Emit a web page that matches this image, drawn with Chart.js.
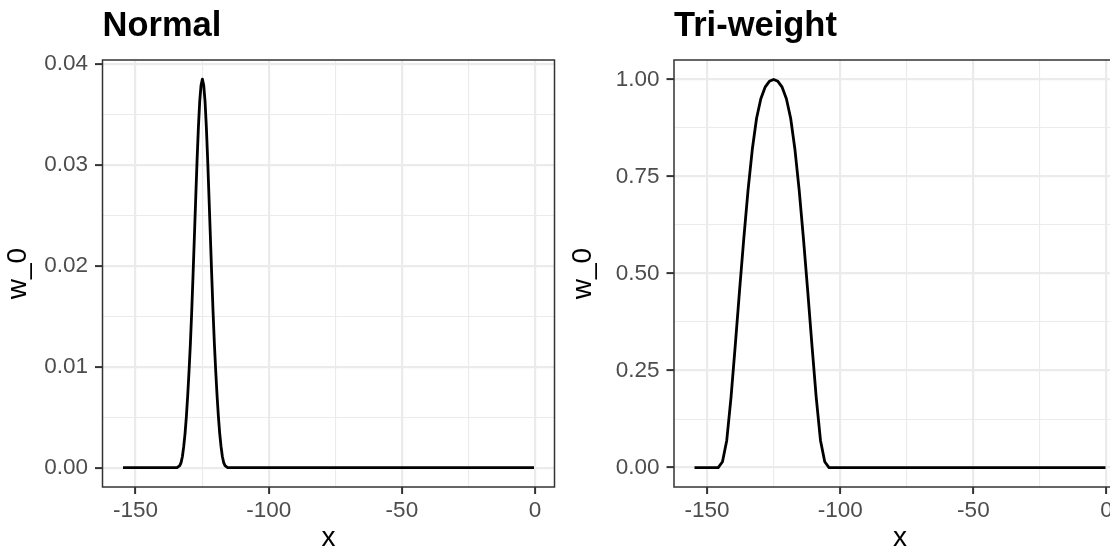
<!DOCTYPE html>
<html>
<head>
<meta charset="utf-8">
<script src="https://cdn.jsdelivr.net/npm/chart.js@4/dist/chart.umd.min.js"></script>
<style>
  html, body { margin: 0; padding: 0; background: #fff; overflow: hidden; }
  body { width: 1110px; height: 552px; position: relative; }
  .painel { position: absolute; top: 0; height: 552px; }
</style>
</head>
<body>
<div class="painel" style="left:0; width:560px;"><canvas id="graficoNormal" width="560" height="552"></canvas></div>
<div class="painel" style="left:560px; width:570px;"><canvas id="graficoTriweight" width="570" height="552"></canvas></div>
<script>
// valores
var ticksX = [-150, -100, -50, 0];
var ticksNormalY = [0, 0.01, 0.02, 0.03, 0.04];
var ticksTriY = [0, 0.25, 0.5, 0.75, 1];

var normalX = [-154.7,
    -134.4, -133.9, -133.4, -132.9, -132.4, -131.9, -131.4, -130.9, -130.4, -129.9,
    -129.4, -128.9, -128.4, -127.9, -127.4, -126.9, -126.4, -125.9, -125.4, -124.9,
    -124.4, -123.9, -123.4, -122.9, -122.4, -121.9, -121.4, -120.9, -120.4, -119.9,
    -119.4, -118.9, -118.4, -117.9, -117.4, -116.9, -116.4, -115.9, -115.4,
    -0.4];
var normalY = [0,
    0, 0.0001, 0.0002, 0.0005, 0.0011, 0.0021, 0.0034, 0.0051, 0.0072, 0.0096,
    0.0123, 0.0155, 0.0191, 0.0229, 0.0267, 0.0304, 0.0337, 0.0363, 0.0379, 0.0385,
    0.0379, 0.0363, 0.0337, 0.0304, 0.0267, 0.0229, 0.0191, 0.0155, 0.0123, 0.0096,
    0.0072, 0.0051, 0.0034, 0.0021, 0.0011, 0.0005, 0.0002, 0.0001, 0,
    0];

var triX = [-154.7,
    -145.8, -144.2, -142.6, -141.0, -139.4, -137.8, -136.2, -134.6, -133.0, -131.4,
    -129.8, -128.2, -126.6, -125.0, -123.4, -121.8, -120.2, -118.6, -117.0, -115.4,
    -113.8, -112.2, -110.6, -109.0, -107.4, -105.8, -104.2,
    -0.4];
var triY = [0,
    0, 0.015, 0.070, 0.180, 0.315, 0.455, 0.590, 0.715, 0.820, 0.900,
    0.950, 0.980, 0.995, 1.000, 0.995, 0.980, 0.950, 0.900, 0.820, 0.715,
    0.590, 0.455, 0.315, 0.180, 0.070, 0.015, 0,
    0];

var fonte = "'Liberation Sans', Arial, Helvetica, sans-serif";

// ticks principais + secundarios (metade do caminho)
function comSecundarios(principais) {
    var lista = [];
    for (var i = 0; i < principais.length; i++) {
        lista.push({ value: principais[i], principal: true });
        if (i < principais.length - 1) {
            lista.push({ value: (principais[i] + principais[i + 1]) / 2, principal: false });
        }
    }
    return lista;
}

var moldura = {
    id: 'moldura',
    afterLayout: function (chart) {
        // titulo alinhado com o painel, como no ggplot
        if (chart.titleBlock) { chart.titleBlock.left = chart.chartArea.left; }
    },
    afterDraw: function (chart) {
        var a = chart.chartArea, ctx = chart.ctx;
        ctx.save();
        ctx.strokeStyle = '#333333';
        ctx.lineWidth = 1.5;
        ctx.strokeRect(a.left, a.top, a.right - a.left, a.bottom - a.top);
        ctx.restore();
    }
};

function gradeLargura(ctx) { return ctx.tick && ctx.tick.principal ? 2.2 : 1.1; }
function gradeTick(ctx) { return ctx.tick && ctx.tick.principal ? '#333333' : 'rgba(0,0,0,0)'; }

function montarGrafico(idCanvas, titulo, xs, ys, ticksY, limY, larguraEixoY, folgaDireita, folgaTituloY) {
    var pontos = xs.map(function (x, i) { return { x: x, y: ys[i] }; });
    var ctx = document.getElementById(idCanvas).getContext('2d');

    return new Chart(ctx, {
        type: 'scatter',
        data: {
            datasets: [{
                label: titulo,
                data: pontos,
                showLine: true,
                borderColor: '#000000',
                borderWidth: 2.8,
                pointRadius: 0,
                tension: 0,
                borderJoinStyle: 'round',
                clip: false
            }]
        },
        options: {
            responsive: false,
            animation: false,
            devicePixelRatio: 1,
            layout: { padding: { left: 0, right: folgaDireita, top: 0, bottom: 0 } },
            plugins: {
                legend: { display: false },
                tooltip: { enabled: false },
                title: {
                    display: true,
                    text: titulo,
                    align: 'start',
                    color: '#000000',
                    font: { family: fonte, size: 34.5, weight: 'bold', lineHeight: 1.2 },
                    padding: { top: 6.2, bottom: 12.4 }
                }
            },
            scales: {
                x: {
                    type: 'linear',
                    min: -162.4,
                    max: 7.3,
                    afterBuildTicks: function (s) { s.ticks = comSecundarios(ticksX); },
                    afterFit: function (s) { s.height = 65; },
                    border: { display: false },
                    grid: { color: '#EBEBEB', lineWidth: gradeLargura, tickColor: gradeTick, tickLength: 7, tickWidth: 2 },
                    ticks: {
                        autoSkip: false, maxRotation: 0, minRotation: 0, padding: 3,
                        color: '#4D4D4D',
                        font: { family: fonte, size: 22.5, lineHeight: 1.2 },
                        callback: function (v, i, t) { return t[i].principal ? String(v) : ''; }
                    },
                    title: {
                        display: true, text: 'x', color: '#000000',
                        font: { family: fonte, size: 28, lineHeight: 1 },
                        padding: { top: 0, bottom: 0 }
                    }
                },
                y: {
                    type: 'linear',
                    min: limY[0],
                    max: limY[1],
                    afterBuildTicks: function (s) { s.ticks = comSecundarios(ticksY); },
                    afterFit: function (s) { s.width = larguraEixoY; },
                    border: { display: false },
                    grid: { color: '#EBEBEB', lineWidth: gradeLargura, tickColor: gradeTick, tickLength: 7.5, tickWidth: 2 },
                    ticks: {
                        autoSkip: false, padding: 7,
                        color: '#4D4D4D',
                        font: { family: fonte, size: 22.5, lineHeight: 1.2 },
                        callback: function (v, i, t) { return t[i].principal ? Number(v).toFixed(2) : ''; }
                    },
                    title: {
                        display: true, text: 'w_0', color: '#000000',
                        font: { family: fonte, size: 28, lineHeight: 1 },
                        padding: { top: folgaTituloY, bottom: 0 }
                    }
                }
            }
        },
        plugins: [moldura]
    });
}

montarGrafico('graficoNormal', 'Normal', normalX, normalY, ticksNormalY, [-0.00192, 0.0404], 102.5, 5.5, 4);
montarGrafico('graficoTriweight', 'Tri-weight', triX, triY, ticksTriY, [-0.05, 1.05], 114, 4, 9);
</script>
</body>
</html>
